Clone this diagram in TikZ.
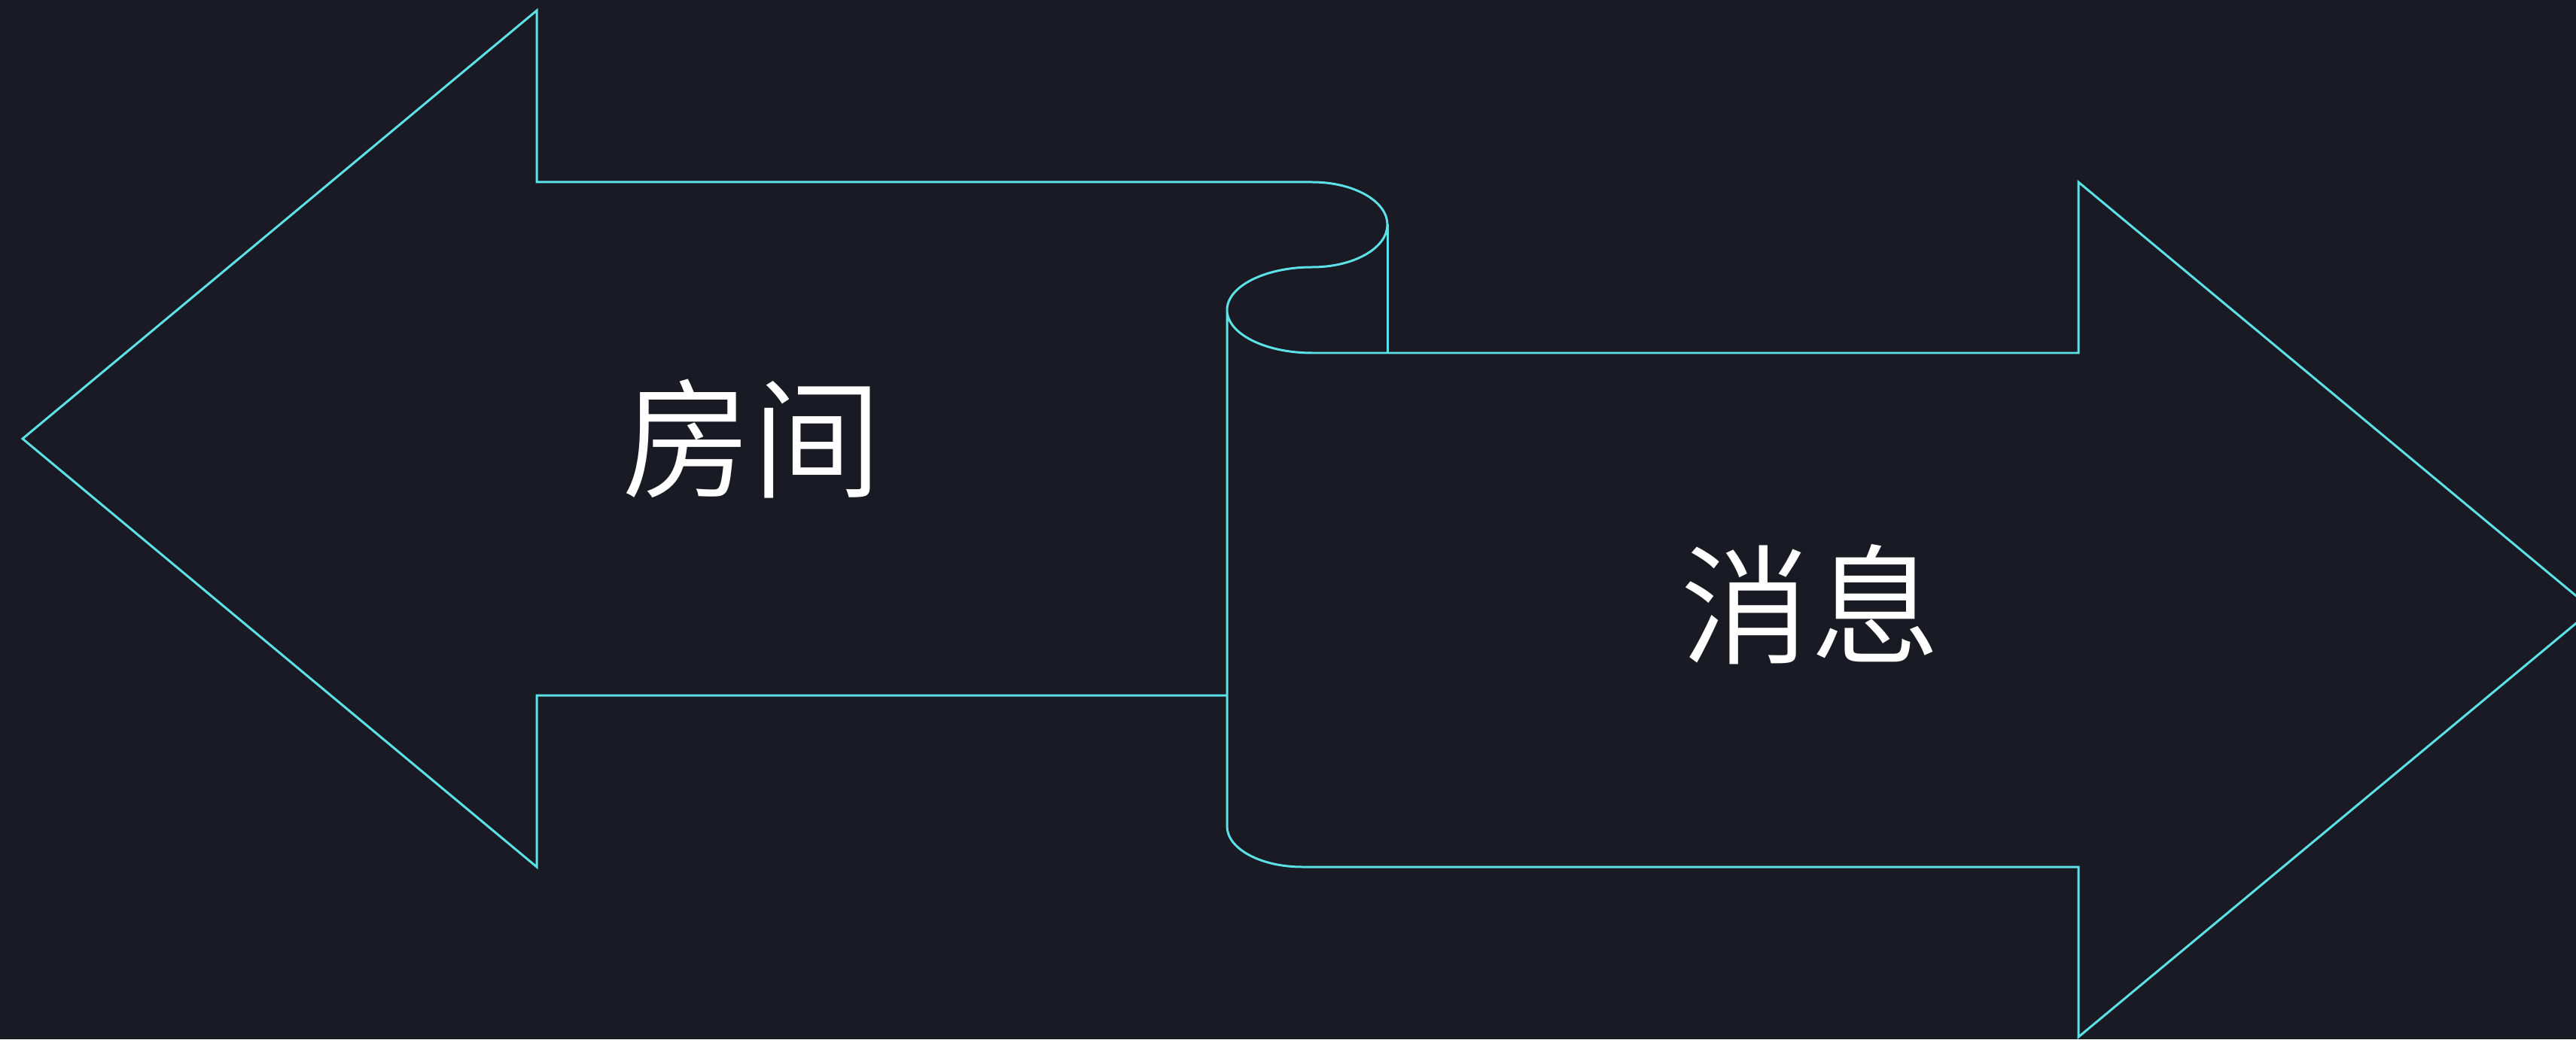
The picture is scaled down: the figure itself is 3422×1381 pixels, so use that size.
\documentclass[tikz,border=0pt]{standalone}
\usepackage{fontspec}
\IfFontExistsTF{Noto Sans CJK SC DemiLight}
  {\newfontfamily\cjk{Noto Sans CJK SC DemiLight}}
  {\newfontfamily\cjk{Noto Sans CJK SC}}
\definecolor{bgc}{HTML}{191A23}
\definecolor{linec}{HTML}{5CE1E6}
\begin{document}
\begin{tikzpicture}[x=0.01cm,y=0.01cm,
  outline/.style={draw=linec,line width=0.85pt,line join=miter},
  lbl/.style={text=white,font=\cjk\fontsize{49pt}{56pt}\selectfont,inner sep=0pt}]
\useasboundingbox (0,0) rectangle (3422,1381);
\fill[bgc] (0,0) rectangle (3422,1381);
\begin{scope}
\clip (0,0) rectangle (3422,1381);
% right arrow with curl
\draw[outline,fill=bgc] (1743,1026) arc[start angle=90,end angle=180,x radius=113,y radius=57]
  -- (1630,283) arc[start angle=180,end angle=270,x radius=100,y radius=54]
  -- (2761,229) -- (2761,3) -- (3444,571) -- (2761,1139) -- (2761,912) -- (1743,912)
  arc[start angle=270,end angle=180,x radius=113,y radius=57];
% left arrow
\draw[outline] (1630,457) -- (713,457) -- (713,229) -- (30,798) -- (713,1367) -- (713,1139)
  -- (1743,1139) arc[start angle=90,end angle=-90,x radius=100,y radius=56.5];
\draw[outline] (1843,1082.5) -- (1843,912);
\end{scope}
\node[lbl] (room) at (999,798) {房间};
\node[lbl] (msg) at (2405,578) {消息};
\end{tikzpicture}
\end{document}
